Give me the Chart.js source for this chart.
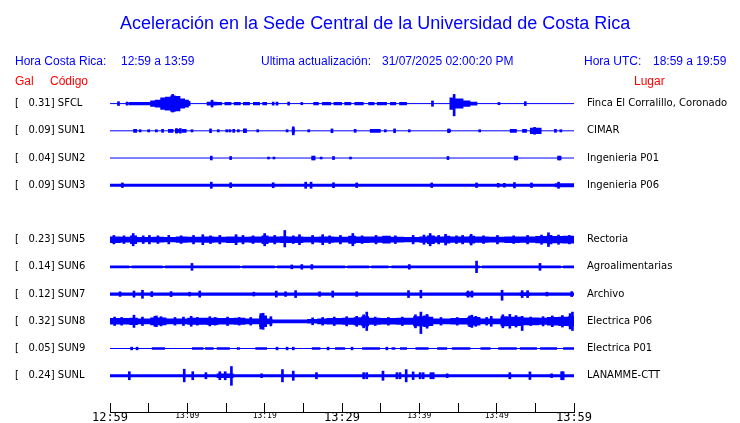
<!DOCTYPE html>
<html>
<head>
<meta charset="utf-8">
<script src="https://cdn.jsdelivr.net/npm/chart.js@4.4.1/dist/chart.umd.min.js"></script>
<style>
  html, body { margin: 0; padding: 0; background: #fff; }
  #wrap { position: relative; width: 740px; height: 423px; overflow: hidden; }
  #grafico { position: absolute; left: 0; top: 0; }
  .txt { position: absolute; font-family: 'Liberation Sans', Arial, sans-serif; line-height: 1; white-space: pre; }
  .azul { color: #0000ff; font-size: 12px; }
  .rojo { color: #ff0000; font-size: 12px; }
</style>
</head>
<body>
<div id="wrap">
  <canvas id="grafico" width="740" height="423"></canvas>
  <div class="txt" style="left:120px; top:14px; font-size:18px; color:#0000ff;">Aceleración en la Sede Central de la Universidad de Costa Rica</div>
  <div class="txt azul" style="left:15px; top:55px;">Hora Costa Rica:</div>
  <div class="txt azul" style="left:121px; top:55px;">12:59 a 13:59</div>
  <div class="txt azul" style="left:261px; top:55px;">Ultima actualización:</div>
  <div class="txt azul" style="left:382px; top:55px;">31/07/2025 02:00:20 PM</div>
  <div class="txt azul" style="left:584px; top:55px;">Hora UTC:</div>
  <div class="txt azul" style="left:653px; top:55px;">18:59 a 19:59</div>
  <div class="txt rojo" style="left:15px; top:75px;">Gal</div>
  <div class="txt rojo" style="left:50px; top:75px;">Código</div>
  <div class="txt rojo" style="left:634px; top:75px;">Lugar</div>
</div>
<script>
// estaciones (fila 4 queda vacia)
const codigos = ['SFCL', 'SUN1', 'SUN2', 'SUN3', 'SUN5', 'SUN6', 'SUN7', 'SUN8', 'SUN9', 'SUNL'];
const picos = [0.31, 0.09, 0.04, 0.09, 0.23, 0.14, 0.12, 0.32, 0.05, 0.24];
const lugares = ['Finca El Corralillo, Coronado', 'CIMAR', 'Ingenieria P01', 'Ingenieria P06',
  'Rectoria', 'Agroalimentarias', 'Archivo', 'Electrica P06', 'Electrica P01', 'LANAMME-CTT'];
const filas = [0, 1, 2, 3, 5, 6, 7, 8, 9, 10];
const horas = ['12:59', '13:09', '13:19', '13:29', '13:39', '13:49', '13:59'];

// envolventes [minuto, amplitud Gal] (se mantiene hasta el siguiente punto)
const sfclEnv = [[0,0],[2.4,0.045],[5.2,0.08],[5.8,0.1],[6.5,0.16],[7.1,0.18],[7.8,0.21],[8.5,0.2],[9.1,0.13],[9.7,0.1],[10.2,0.065],[10.4,0],
  [12.5,0.05],[13.8,0.045],[14.5,0],[14.8,0.045],[15.7,0],[16.0,0.045],[16.9,0],[17.2,0.045],[18.1,0],[18.5,0.04],[19.4,0],[19.7,0.04],[20.3,0],
  [26.3,0.04],[27.0,0],[27.4,0.045],[28.6,0],[28.9,0.04],[30.0,0],[30.3,0.04],[31.2,0],[31.6,0.04],[32.8,0],[33.4,0.04],[34.2,0],[34.5,0.045],[35.8,0],
  [36.2,0.04],[37.0,0],[37.4,0.04],[38.4,0],[43.9,0.16],[44.6,0.13],[45.7,0.08],[46.6,0.05],[47.5,0],[60,0]];
const sun1Env = [[0,0],[3.0,0.05],[3.5,0],[7.5,0.05],[8.2,0],[8.4,0.05],[9.0,0],[9.3,0.05],[9.9,0],[17.2,0.06],[17.7,0],[23.5,0.06],[23.9,0],
  [33.6,0.05],[35.0,0],[43.6,0.04],[44.1,0],[51.7,0.05],[52.6,0],[53.3,0.05],[53.9,0],[54.3,0.08],[55.8,0],[60,0]];
const sun2Env = [[0,0],[60,0]];
const sun3Env = [[0,0.04],[57.5,0.05],[60,0.05]];
const sun5Env = [[0,0.085],[1.4,0.075],[2.6,0.11],[3.5,0.07],[5.5,0.075],[7,0.07],[8.5,0.08],[10,0.075],[12,0.08],[13.5,0.075],[15,0.085],[16.5,0.075],
  [18,0.08],[19.6,0.11],[20.5,0.08],[22,0.09],[23,0.085],[25,0.075],[27,0.08],[29,0.075],[30.8,0.105],[31.8,0.085],[33.6,0.08],[35.2,0.1],[36.3,0.075],
  [38,0.07],[40,0.08],[41,0.11],[42,0.08],[43.2,0.1],[44,0.08],[46.4,0.1],[47.2,0.08],[49,0.075],[51,0.085],[53,0.08],[55,0.095],[56.5,0.12],[57.2,0.095],[58.5,0.1],[60,0.1]];
const sun6Env = [[0,0.035],[2.5,0.02],[2.8,0.035],[6.8,0.02],[7.1,0.035],[16.8,0.025],[17.1,0.035],[21.3,0.02],[21.6,0.035],[30.4,0.025],[30.7,0.035],
  [33.5,0.02],[33.8,0.035],[36,0.02],[36.4,0.035],[47.8,0.02],[48.1,0.035],[58.3,0.025],[58.6,0.035],[60,0.035]];
const sun7Env = [[0,0.04],[46,0.055],[47,0.04],[53,0.05],[54.3,0.04],[60,0.045]];
const sun8Env = [[0,0.085],[2.5,0.095],[3.6,0.075],[5.2,0.1],[7.3,0.075],[10,0.09],[12.5,0.095],[14,0.085],[16,0.09],[17.5,0.075],[19.3,0.15],[20.3,0.075],
  [21,0.05],[25.5,0.06],[26.8,0.075],[28,0.085],[30,0.09],[31.5,0.105],[32.5,0.13],[33.5,0.09],[35,0.085],[37,0.09],[39.2,0.13],[40.5,0.15],[41.2,0.12],
  [41.8,0.075],[44,0.085],[46.2,0.11],[47.9,0.075],[50.5,0.13],[51.5,0.12],[53.4,0.1],[55.5,0.09],[56.5,0.11],[58,0.12],[59.2,0.13],[60,0.13]];
const sun9Env = [[0,0],[5.4,0.035],[7.1,0],[10.6,0.035],[12.1,0],[12.3,0.035],[13.4,0],[13.8,0.035],[15.5,0],[16.4,0.035],[16.8,0],[18.8,0.035],[20.3,0],
  [26.1,0.035],[27.2,0],[29.1,0.035],[30.4,0],[32.6,0.035],[34.9,0],[36.4,0.035],[36.9,0],[37.5,0.035],[38.4,0],[39.5,0.035],[41.2,0],[42.3,0.035],[43.6,0],
  [44.2,0.035],[46.6,0],[47.9,0.035],[49.2,0],[50.2,0.035],[52.6,0],[53,0.035],[55.2,0],[55.6,0.035],[57.8,0],[58.6,0.035],[60,0.035]];
const sunlEnv = [[0,0.04],[13.8,0.06],[16,0.04],[60,0.045]];

// picos [minuto, amplitud arriba, amplitud abajo opcional]
const sfclSpikes = [[1.1,0.05],[2.2,0.04],[8.1,0.24,0.22],[13.2,0.09],[21.1,0.04],[21.6,0.04],[23.1,0.04],[24.8,0.03],[41.7,0.07],[44.5,0.24,0.32],[50.3,0.03],[53.7,0.05]];
const sun1Spikes = [[3.9,0.03],[5.0,0.03],[6.0,0.03],[6.8,0.04],[8.6,0.06],[9.1,0.06],[10.6,0.03],[13.0,0.05],[14.0,0.03],[15.1,0.03],[15.5,0.03],[16.0,0.04],
  [16.6,0.03],[19.1,0.03],[22.9,0.03],[23.7,0.105],[25.7,0.03],[28.7,0.05],[31.7,0.04],[35.6,0.03],[36.8,0.05],[38.7,0.03],[43.8,0.05],[47.8,0.03],[54.9,0.09],[57.6,0.04],[58.3,0.03]];
const sun2Spikes = [[13.1,0.05],[15.6,0.04],[20.5,0.025],[21.2,0.025],[26.2,0.05],[26.4,0.05],[27.3,0.025],[28.9,0.04],[31.1,0.025],[43.7,0.04],[52.4,0.05],[52.6,0.05],[58.0,0.05],[58.2,0.05]];
const sun3Spikes = [[1.6,0.06],[13.1,0.08],[15.6,0.065],[21.1,0.065],[25.3,0.08],[26.0,0.08],[28.9,0.065],[31.9,0.06],[41.6,0.06],[47.4,0.06],[50.2,0.05],[51.0,0.05],[52.3,0.07],[54.5,0.06],[58.0,0.08]];
const sun5Spikes = [[0.5,0.11],[1.8,0.1],[3,0.16],[4.3,0.1],[5.1,0.11],[6.2,0.1],[7.6,0.11],[9.2,0.1],[10.8,0.11],[12,0.13],[13,0.1],[14.2,0.11],[16.3,0.13],
  [17.2,0.11],[18.5,0.1],[20,0.16],[21.3,0.11],[22.6,0.24,0.19],[23.7,0.1],[24.5,0.13],[26.2,0.11],[27.5,0.13],[28.4,0.1],[29.8,0.11],[31.4,0.16],[32.6,0.1],
  [34.4,0.11],[36.9,0.1],[39.2,0.11],[40.6,0.12],[41.4,0.16],[42.5,0.11],[43.4,0.14],[44.8,0.1],[45.6,0.11],[46.7,0.14],[48.3,0.1],[50.1,0.11],[52.2,0.1],
  [54,0.11],[55.8,0.12],[56.7,0.18],[58,0.12],[59.4,0.11]];
const sun6Spikes = [[10.6,0.09],[23.5,0.05],[24.8,0.06],[26.1,0.06],[38.7,0.06],[47.4,0.15],[55.6,0.09]];
const sun7Spikes = [[1.3,0.06],[3.1,0.08],[4.2,0.1,0.11],[5.4,0.065],[7.9,0.065],[10.3,0.05],[11.6,0.08],[18.6,0.05],[21.5,0.08],[22.7,0.06],[24,0.09],[27.1,0.06],
  [28.8,0.08],[31.9,0.06],[38.6,0.09],[40.2,0.1],[46.3,0.08],[46.8,0.08],[50.7,0.1,0.16],[53.3,0.09],[54,0.09],[56.5,0.05],[59.7,0.065]];
const sun8Spikes = [[0.6,0.11],[1.5,0.1],[3.1,0.16],[4.2,0.11],[5.8,0.13],[6,0.14],[6.6,0.12],[8.4,0.1],[9.5,0.11],[10.5,0.13],[11.3,0.1],[12.9,0.12],[13.6,0.1],
  [15.2,0.11],[16.7,0.1],[18.2,0.1],[19.5,0.2],[19.8,0.21],[20.8,0.12],[26.2,0.09],[27.5,0.1],[29,0.11],[30.6,0.12],[31.9,0.13],[32.8,0.17],[33.2,0.24],
  [34.3,0.11],[36,0.1],[37.8,0.11],[39.5,0.17],[40.2,0.24,0.32],[41,0.18],[42.8,0.1],[44.9,0.1],[46.5,0.14],[46.8,0.16],[47.3,0.13],[48.7,0.1],[49.3,0.13],
  [50.8,0.17],[51.7,0.18],[52.5,0.15],[53.3,0.13,0.24],[54.4,0.11],[56,0.12],[57.2,0.14],[58.5,0.15],[59.5,0.2],[59.8,0.24]];
const sun9Spikes = [[2.8,0.035],[3.5,0.035],[21.6,0.035],[22.9,0.035],[23.7,0.035],[28.2,0.035],[31.3,0.035],[35.8,0.035]];
const sunlSpikes = [[2.5,0.105],[9.6,0.17,0.16],[10.7,0.105],[12.4,0.08],[14.2,0.105],[14.9,0.105],[15.7,0.24,0.25],[19.6,0.05],[22.3,0.16],[23.7,0.12],[26.7,0.08],
  [32.8,0.08],[33.2,0.08],[35.3,0.12],[37.1,0.08],[37.5,0.08],[38.3,0.16],[39.2,0.1],[40.1,0.08],[40.5,0.08],[41.5,0.08],[41.8,0.08],[43.6,0.05],[51.7,0.08],[54.3,0.1],[57.1,0.05],[58.4,0.105],[58.6,0.105]];

const envolventes = [sfclEnv, sun1Env, sun2Env, sun3Env, sun5Env, sun6Env, sun7Env, sun8Env, sun9Env, sunlEnv];
const picosSenal = [sfclSpikes, sun1Spikes, sun2Spikes, sun3Spikes, sun5Spikes, sun6Spikes, sun7Spikes, sun8Spikes, sun9Spikes, sunlSpikes];

const AZUL = '#0000ff';
const FILAS_POR_GAL = 1.41; // escala vertical de las trazas

const datasets = [];
filas.forEach((fila, i) => {
  const y0 = -fila;
  datasets.push({
    type: 'line', data: [{x: 0, y: y0}, {x: 60, y: y0}],
    borderColor: AZUL, borderWidth: 1, pointRadius: 0, fill: false
  });
  datasets.push({
    type: 'line', stepped: true,
    data: envolventes[i].map(([t, a]) => ({x: t, y: y0 + a * FILAS_POR_GAL})),
    borderWidth: 0, borderColor: 'transparent', pointRadius: 0, fill: false
  });
  datasets.push({
    type: 'line', stepped: true,
    data: envolventes[i].map(([t, a]) => ({x: t, y: y0 - a * FILAS_POR_GAL})),
    borderWidth: 0, borderColor: 'transparent', backgroundColor: AZUL, pointRadius: 0, fill: '-1'
  });
  datasets.push({
    type: 'bar', grouped: false, barThickness: 2,
    data: picosSenal[i].map(([t, a, b]) => ({x: t, y: [y0 - (b ?? a) * FILAS_POR_GAL, y0 + a * FILAS_POR_GAL]})),
    backgroundColor: AZUL, borderWidth: 0
  });
});

const ejeFilas = (pos) => ({
  type: 'linear', position: pos, min: -11.333, max: 0.5,
  grid: { display: false }, border: { display: false },
  afterBuildTicks: scale => { scale.ticks = filas.map(f => ({ value: -f })); },
  afterFit: scale => { scale.width = pos === 'left' ? 95 : 166; },
  ticks: {
    autoSkip: false, color: '#000', padding: pos === 'left' ? 0 : 5,
    crossAlign: pos === 'left' ? 'far' : 'near',
    font: { family: 'DejaVu Sans', size: 10 },
    callback: (v, idx) => pos === 'left'
      ? '[   ' + picos[idx].toFixed(2) + '] ' + codigos[idx]
      : lugares[idx]
  }
});

new Chart(document.getElementById('grafico'), {
  type: 'line',
  data: { datasets },
  options: {
    responsive: false,
    animation: false,
    devicePixelRatio: 1,
    layout: { padding: { left: 15, right: 0, top: 90, bottom: 0 } },
    plugins: { legend: { display: false }, tooltip: { enabled: false } },
    scales: {
      x: {
        type: 'linear', min: 0, max: 60, offset: false,
        afterFit: scale => { scale.height = 9; },
        border: { display: true, color: '#000', width: 1 },
        grid: { drawOnChartArea: false, color: '#000', tickLength: -9, offset: false },
        ticks: {
          stepSize: 5, autoSkip: false, maxRotation: 0, padding: 8, color: '#000',
          font: ctx => ({ family: 'DejaVu Sans Mono', size: (ctx.tick && ctx.tick.value % 30 === 0) ? 12 : 8 }),
          callback: v => (v % 10 === 0 ? horas[v / 10] : '')
        }
      },
      y: ejeFilas('left'),
      y2: ejeFilas('right')
    }
  }
});
</script>
</body>
</html>
